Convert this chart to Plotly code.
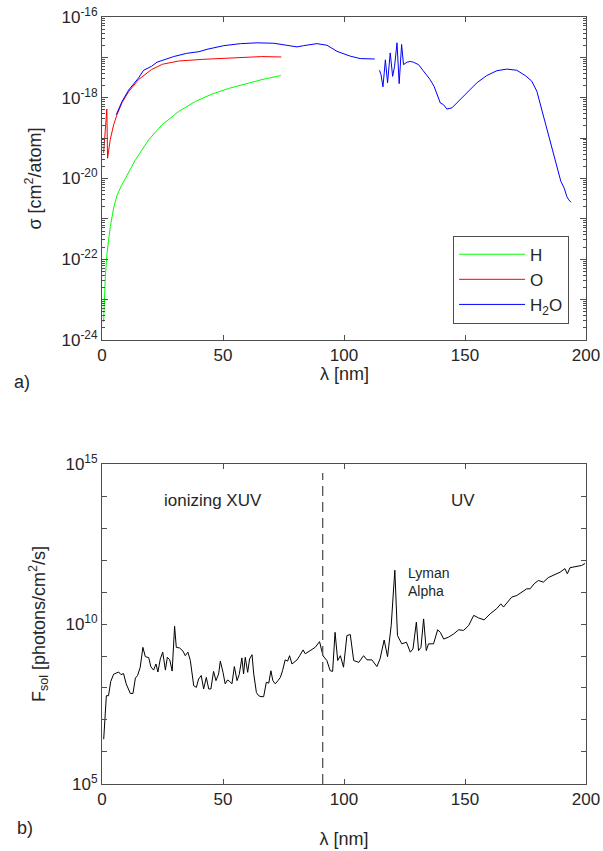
import plotly.graph_objects as go

# ---------------- data: panel a) cross sections (log10 sigma) ----------------
lam_H = [0.67, 0.95, 1.37, 2.06, 3.43, 4.81, 6.2, 8.0, 9.9, 13.8, 19.3, 24.8, 31.7, 38.6, 45.4, 52.3, 59.2, 66.1, 73.9]
logsig_H = [-23.55, -23.01, -22.43, -21.85, -21.19, -20.73, -20.42, -20.18, -19.98, -19.54, -19.04, -18.67, -18.34, -18.09, -17.91, -17.77, -17.66, -17.55, -17.45]

lam_O = [0.66, 1.35, 2.0, 2.3, 3.4, 4.8, 6.2, 8.3, 11.0, 15.1, 20.5, 25.0, 31.7, 41.4, 50.0, 60.0, 66.0, 74.1]
logsig_O = [-19.37, -18.79, -18.28, -19.50, -19.04, -18.67, -18.42, -18.12, -17.85, -17.55, -17.30, -17.17, -17.09, -17.05, -17.02, -16.99, -16.98, -16.99]

lam_H2O = [5.9, 8.3, 11.0, 15.1, 17.2, 20.5, 22.7, 29.6, 35.0, 40.0, 43.4, 50.3, 57.2, 64.0, 70.9, 74.4, 77.8, 80.6, 83.3,
           88.8, 93.0, 97.1, 102.6, 106.7, 112.7,
           None,
           114.7, 115.3, 116.1, 117.1, 118.0, 119.1, 120.1, 120.9, 121.9, 122.8, 123.8, 124.6, 126.0, 127.4, 128.7,
           130.8, 132.6, 134.2, 135.6, 137.3, 138.6, 139.8, 141.1, 142.5, 144.6, 146.6, 150.8, 154.9, 159.0, 163.2,
           167.3, 171.4, 174.9, 177.6, 179.7, 181.7, 183.8, 185.9, 188.0, 189.6, 191.0, 192.1, 192.9, 193.8]
logsig_H2O = [-18.42, -18.09, -17.81, -17.51, -17.32, -17.22, -17.12, -16.98, -16.90, -16.86, -16.80, -16.71, -16.66, -16.64, -16.65, -16.68, -16.72, -16.74, -16.71,
              -16.66, -16.70, -16.85, -16.97, -17.03, -17.04,
              None,
              -17.32, -17.43, -17.73, -17.06, -17.63, -16.89, -17.47, -17.22, -16.64, -17.65, -16.68, -17.18, -17.12, -17.10, -17.12,
              -17.18, -17.32, -17.43, -17.55, -17.73, -17.96, -18.13, -18.17, -18.28, -18.25, -18.13, -17.87, -17.63, -17.45, -17.33,
              -17.29, -17.32, -17.45, -17.59, -17.84, -18.30, -18.79, -19.25, -19.70, -20.07, -20.24, -20.45, -20.53, -20.59]

# ---------------- data: panel b) solar photon flux (log10 F) ----------------
lam_sol = [0.7, 1.8, 2.7, 3.6, 4.8, 6.9, 7.8, 8.9, 10.0, 11.7, 12.8, 13.8, 14.7, 15.8, 16.9, 17.9, 19.3, 20.2, 21.3, 22.3,
           23.1, 24.1, 25.1, 26.2, 27.0, 28.0, 29.0, 30.0, 30.7, 32.1, 33.5, 34.4, 35.5, 36.5, 37.9, 39.0, 39.9, 41.0,
           42.0, 43.1, 44.1, 45.0, 46.1, 47.1, 48.2, 48.9, 50.0, 50.9, 51.9, 52.7, 53.7, 54.7, 55.8, 56.7, 57.8, 58.5,
           59.2, 60.2, 61.0, 62.0, 62.7, 63.8, 64.7, 65.7, 66.8, 67.9, 68.9, 69.8, 70.6, 71.6, 72.7, 73.7, 74.6, 75.7,
           76.7, 77.5, 78.5, 79.5, 80.6, 81.7, 83.1, 84.0, 86.1, 88.1, 89.9, 91.3, 92.9, 94.3, 95.3, 96.3, 97.4, 98.5,
           99.8, 101.2, 102.6, 104.0, 106.1, 108.1, 109.5, 111.5, 113.6, 114.9, 116.6, 118.0, 119.5, 121.0, 122.1,
           123.9, 125.8, 127.4, 128.5, 129.9, 130.8, 131.8, 132.9, 134.0, 134.9, 137.0, 138.7, 139.8, 141.2, 143.2,
           145.3, 147.4, 149.4, 151.5, 153.6, 155.6, 157.9, 160.4, 163.1, 164.8, 165.9, 167.6, 169.3, 171.4, 173.4,
           175.5, 176.9, 178.6, 180.3, 182.4, 184.4, 186.5, 189.3, 191.3, 192.3, 193.4, 196.2, 198.2, 199.6]
logF_sol = [6.40, 7.76, 7.76, 8.20, 8.43, 8.50, 8.42, 8.45, 8.13, 7.83, 7.83, 8.31, 8.39, 8.65, 9.27, 8.98, 8.95, 8.66, 8.56, 8.75,
            8.50, 8.91, 9.12, 8.56, 8.96, 8.88, 8.53, 9.93, 9.27, 9.25, 9.15, 9.01, 9.12, 8.86, 8.07, 8.02, 8.28, 8.39,
            7.97, 8.33, 7.97, 7.97, 8.52, 8.23, 8.44, 8.84, 8.49, 8.13, 8.25, 8.21, 8.13, 8.67, 8.23, 8.42, 8.94, 8.44,
            8.96, 8.49, 8.91, 9.04, 8.44, 7.86, 7.76, 7.73, 7.73, 8.18, 8.15, 8.54, 8.23, 8.13, 8.23, 8.33, 8.54, 8.88,
            8.84, 9.01, 8.75, 8.80, 8.88, 9.01, 9.19, 9.07, 9.17, 9.27, 9.45, 9.01, 8.86, 8.54, 8.52, 9.74, 8.86, 9.01,
            8.65, 9.64, 9.67, 8.86, 8.80, 9.01, 8.88, 8.88, 8.67, 8.91, 9.50, 8.98, 9.95, 11.68, 9.64,
            9.38, 9.43, 9.12, 9.22, 10.06, 9.17, 9.27, 10.16, 9.17, 9.38, 9.38, 9.82, 9.74, 9.53, 9.59,
            9.69, 9.82, 9.80, 9.95, 10.27, 10.19, 10.13, 10.32, 10.48, 10.63, 10.53, 10.68, 10.84, 10.89, 11.00,
            11.10, 11.10, 11.26, 11.36, 11.31, 11.45, 11.52, 11.62, 11.73, 11.57, 11.76, 11.80, 11.83, 11.89]

ion_threshold = [91.2, 91.2]
threshold_logF = [5.0, 14.72]

x_ticks = [0, 50, 100, 150, 200]
ya_exps = list(range(-24, -15))
yb_exps = list(range(5, 16))


def pw(v):
    return None if v is None else 10 ** v


FONT = "Liberation Sans, Arial, Helvetica, sans-serif"
AX = "#4d4d4d"
TXT = "#262626"

fig = go.Figure()
fig.add_trace(go.Scatter(x=lam_H, y=[pw(v) for v in logsig_H], mode="lines", name="H",
                         line=dict(color="#00ff00", width=1), xaxis="x", yaxis="y"))
fig.add_trace(go.Scatter(x=lam_O, y=[pw(v) for v in logsig_O], mode="lines", name="O",
                         line=dict(color="#ff0000", width=1), xaxis="x", yaxis="y"))
fig.add_trace(go.Scatter(x=lam_H2O, y=[pw(v) for v in logsig_H2O], mode="lines", name="H<sub>2</sub>O",
                         line=dict(color="#0000ff", width=1), connectgaps=False, xaxis="x", yaxis="y"))

fig.add_trace(go.Scatter(x=lam_sol, y=[pw(v) for v in logF_sol], mode="lines", showlegend=False,
                         line=dict(color="black", width=1), xaxis="x2", yaxis="y2"))
fig.add_trace(go.Scatter(x=ion_threshold, y=[pw(v) for v in threshold_logF], mode="lines", showlegend=False,
                         line=dict(color="#555555", width=1.3, dash="10px,6px"), xaxis="x2", yaxis="y2"))

common_x = dict(range=[0, 200], tickvals=x_ticks, ticks="inside", ticklen=5, tickcolor=AX, mirror="ticks",
                showline=True, linecolor=AX, linewidth=1, showgrid=False, zeroline=False, automargin=False,
                ticklabeloverflow="allow",
                tickfont=dict(family=FONT, size=17, color=TXT))

ya_text = ["10<sup>%d</sup>" % e if e % 2 == 0 else "" for e in ya_exps]
yb_text = ["10<sup>%d</sup>" % e if e % 5 == 0 else "" for e in yb_exps]
ya_minor = [k * 10.0 ** e for e in ya_exps[:-1] for k in range(2, 10)]

fig.update_layout(
    width=603, height=851,
    margin=dict(l=102, r=17, t=17, b=67),
    paper_bgcolor="white", plot_bgcolor="white",
    font=dict(family=FONT, color=TXT),
    xaxis=dict(domain=[0, 1], anchor="y", **common_x),
    xaxis2=dict(domain=[0, 1], anchor="y2", **common_x,
                title=dict(text="λ [nm]", font=dict(family=FONT, size=18, color=TXT), standoff=23)),
    yaxis=dict(domain=[0.5789, 1.0], anchor="x", type="log", range=[-24, -16],
               tickvals=[10 ** e for e in ya_exps], ticktext=ya_text,
               ticks="inside", ticklen=6, tickcolor=AX, mirror="ticks", showline=True, linecolor=AX,
               linewidth=1, showgrid=False, zeroline=False, automargin=False, ticklabeloverflow="allow",
               minor=dict(tickmode="array", tickvals=ya_minor, ticks="inside", ticklen=3, tickcolor=AX, showgrid=False),
               tickfont=dict(family=FONT, size=17, color=TXT),
               title=dict(text="σ [cm<sup>2</sup>/atom]", font=dict(family=FONT, size=18, color=TXT))),
    yaxis2=dict(domain=[0, 0.4172], anchor="x2", type="log", range=[5, 15],
                tickvals=[10 ** e for e in yb_exps], ticktext=yb_text,
                ticks="inside", ticklen=5, tickcolor=AX, mirror="ticks", showline=True, linecolor=AX,
                linewidth=1, showgrid=False, zeroline=False, automargin=False, ticklabeloverflow="allow",
                tickfont=dict(family=FONT, size=17, color=TXT),
                title=dict(text="F<sub>sol</sub> [photons/cm<sup>2</sup>/s]", font=dict(family=FONT, size=18, color=TXT))),
    legend=dict(x=0.965, y=0.7149, xanchor="right", yanchor="top", bgcolor="white",
                bordercolor=AX, borderwidth=1, font=dict(family=FONT, size=17, color=TXT),
                itemwidth=66, tracegroupgap=2),
    showlegend=True,
)

# top panel x-axis title sits tight under its tick labels in the reference
fig.add_annotation(text="λ [nm]", x=100, y=374, xref="x", yref="paper", showarrow=False,
                   xanchor="center", yanchor="middle", font=dict(family=FONT, size=18, color=TXT))
fig.add_annotation(text="ionizing XUV", x=46, y=13.87, xref="x2", yref="y2", showarrow=False,
                   font=dict(family=FONT, size=17, color=TXT))
fig.add_annotation(text="UV", x=149.3, y=13.87, xref="x2", yref="y2", showarrow=False,
                   font=dict(family=FONT, size=17, color=TXT))
fig.add_annotation(text="Lyman<br>Alpha", x=125.5, y=11.3, xref="x2", yref="y2", showarrow=False,
                   xanchor="left", align="left", font=dict(family=FONT, size=14, color=TXT))
fig.add_annotation(text="a)", x=-0.165, y=382, xref="paper", yref="paper", showarrow=False,
                   xanchor="center", yanchor="middle", font=dict(family=FONT, size=18, color=TXT))
fig.add_annotation(text="b)", x=-0.16, y=828, xref="paper", yref="paper", showarrow=False,
                   xanchor="center", yanchor="middle", font=dict(family=FONT, size=18, color=TXT))

# convert pixel-y placements (window pixels) for paper-anchored labels into paper coords
for ann in fig.layout.annotations:
    if ann.yref == "paper":
        ann.y = (784 - ann.y) / 767.0

# remove the default 8px page margin so the figure fills the window exactly
fig.write_html("out.html", config={"displayModeBar": False},
               post_script="document.body.style.margin='0';document.body.style.overflow='hidden';")
